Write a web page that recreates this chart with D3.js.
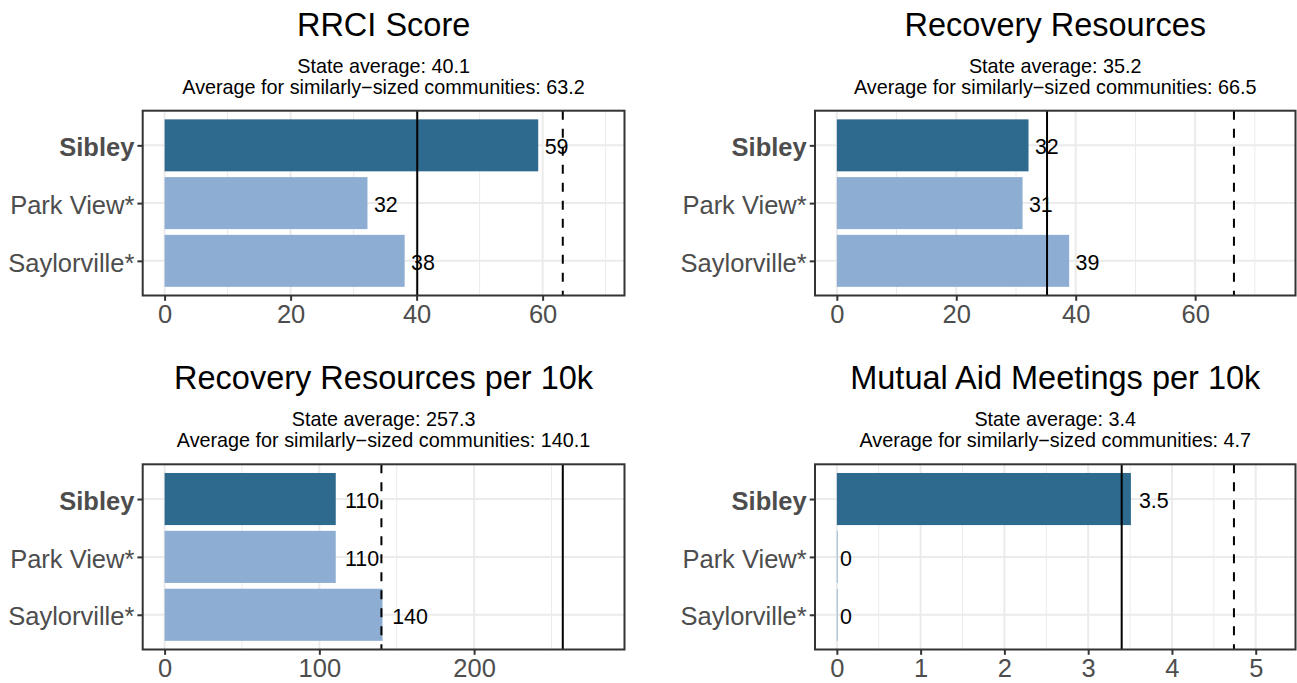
<!DOCTYPE html>
<html>
<head>
<meta charset="utf-8">
<script src="https://cdn.jsdelivr.net/npm/d3@7"></script>
<style>
  html, body { margin: 0; padding: 0; background: #fff; }
  svg { display: block; font-family: "Liberation Sans", Arial, sans-serif; }
</style>
</head>
<body>
<svg id="chart" width="1297" height="683"></svg>
<script>
// ---- data ----
const categories = ["Sibley", "Park View*", "Saylorville*"];
const panelTitles = ["RRCI Score", "Recovery Resources", "Recovery Resources per 10k", "Mutual Aid Meetings per 10k"];
const rrciValues = [59.3, 32.2, 38.1];
const resourcesValues = [32.1, 31.1, 38.9];
const resourcesPer10kValues = [110.6, 110.6, 140.8];
const meetingsPer10kValues = [3.51, 0, 0];
const stateAverages = [40.1, 35.2, 257.3, 3.4];
const similarAverages = [63.2, 66.5, 140.1, 4.74];
const tickLabels = [[0, 20, 40, 60], [0, 20, 40, 60], [0, 100, 200], [0, 1, 2, 3, 4, 5]];
const seriesValues = [rrciValues, resourcesValues, resourcesPer10kValues, meetingsPer10kValues];

// ---- layout ----
const panelX = [[142.7, 624.5], [815, 1295.5]];
const panelY = [[110.7, 295.5], [464.3, 649.5]];
const darkBlue = "#2E6A8E", lightBlue = "#8DAED2";
const axisFont = 25.5;
const svg = d3.select("#chart");
const fmt = v => v === 0 ? "0" : d3.format(".2~r")(v);

seriesValues.forEach((vals, i) => {
  const col = i % 2, row = Math.floor(i / 2);
  const [x0, x1] = panelX[col], [y0, y1] = panelY[row];
  const upper = d3.max([...vals, stateAverages[i], similarAverages[i]]) * 1.1;
  const pad = upper * 0.05;
  const x = d3.scaleLinear().domain([-pad, upper + pad]).range([x0, x1]);
  const yc = d3.scalePoint().domain(categories).range([y0, y1]).padding(0.6);
  const step = (y1 - y0) / 3.2;
  const g = svg.append("g");

  // titles
  const cx = (x0 + x1) / 2;
  g.append("text").attr("x", cx).attr("y", y0 - 75).attr("text-anchor", "middle")
    .attr("font-size", 32.5).attr("fill", "#000").text(panelTitles[i]);
  g.append("text").attr("x", cx).attr("y", y0 - 38).attr("text-anchor", "middle")
    .attr("font-size", 19.8).attr("fill", "#000").text("State average: " + stateAverages[i].toFixed(1));
  g.append("text").attr("x", cx).attr("y", y0 - 17).attr("text-anchor", "middle")
    .attr("font-size", 19.8).attr("fill", "#000").text("Average for similarly\u2212sized communities: " + similarAverages[i].toFixed(1));

  // grid
  const major = tickLabels[i];
  const stepT = major[1] - major[0];
  const minor = [];
  for (let k = 0; k < major.length + 1; k++) {
    const m = major[0] + stepT * (k + 0.5);
    if (m < upper + pad) minor.push(m);
  }
  g.selectAll(".minor").data(minor).join("line")
    .attr("x1", d => x(d)).attr("x2", d => x(d)).attr("y1", y0).attr("y2", y1)
    .attr("stroke", "#EBEBEB").attr("stroke-width", 1);
  g.selectAll(".major").data(major).join("line")
    .attr("x1", d => x(d)).attr("x2", d => x(d)).attr("y1", y0).attr("y2", y1)
    .attr("stroke", "#EBEBEB").attr("stroke-width", 2);
  g.selectAll(".hmajor").data(categories).join("line")
    .attr("x1", x0).attr("x2", x1).attr("y1", d => yc(d)).attr("y2", d => yc(d))
    .attr("stroke", "#EBEBEB").attr("stroke-width", 2);

  // bars
  g.selectAll(".bar").data(vals).join("rect")
    .attr("x", x(0))
    .attr("width", d => Math.max(x(d) - x(0), 0.8))
    .attr("y", (d, j) => yc(categories[j]) - step * 0.45)
    .attr("height", step * 0.9)
    .attr("fill", (d, j) => j === 0 ? darkBlue : lightBlue);

  // reference lines
  g.append("line").attr("x1", x(stateAverages[i])).attr("x2", x(stateAverages[i]))
    .attr("y1", y0).attr("y2", y1).attr("stroke", "#000").attr("stroke-width", 2);
  g.append("line").attr("x1", x(similarAverages[i])).attr("x2", x(similarAverages[i]))
    .attr("y1", y0).attr("y2", y1).attr("stroke", "#000").attr("stroke-width", 2)
    .attr("stroke-dasharray", "9,9");

  // value labels
  g.selectAll(".vlab").data(vals).join("text")
    .attr("y", (d, j) => yc(categories[j]))
    .attr("dy", "0.42em")
    .attr("font-size", 21.4).attr("fill", "#000")
    .text(d => fmt(d))
    .each(function(d) {
      const w = this.getComputedTextLength();
      d3.select(this).attr("x", x(d) + 0.27 * w);
    });

  // panel border
  g.append("rect").attr("x", x0).attr("y", y0).attr("width", x1 - x0).attr("height", y1 - y0)
    .attr("fill", "none").attr("stroke", "#333").attr("stroke-width", 2);

  // x axis
  const xAxis = d3.axisBottom(x).tickValues(major).tickSize(5.3).tickPadding(4.5).tickFormat(d3.format("~g"));
  const ax = g.append("g").attr("transform", `translate(0,${y1})`).call(xAxis);
  ax.select(".domain").remove();
  ax.selectAll(".tick line").attr("stroke", "#333").attr("stroke-width", 2);
  ax.selectAll(".tick text").attr("fill", "#4D4D4D").attr("font-size", axisFont)
    .attr("font-family", "Liberation Sans, Arial, sans-serif").attr("dy", "0.71em");

  // y axis
  const yAxis = d3.axisLeft(yc).tickSize(5.3).tickPadding(3);
  const ay = g.append("g").attr("transform", `translate(${x0},0)`).call(yAxis);
  ay.select(".domain").remove();
  ay.selectAll(".tick line").attr("stroke", "#333").attr("stroke-width", 2);
  ay.selectAll(".tick text").attr("fill", "#4D4D4D").attr("font-size", axisFont)
    .attr("font-family", "Liberation Sans, Arial, sans-serif")
    .attr("dy", "0.4em")
    .attr("font-weight", d => d === "Sibley" ? "bold" : "normal");
});
</script>
</body>
</html>
